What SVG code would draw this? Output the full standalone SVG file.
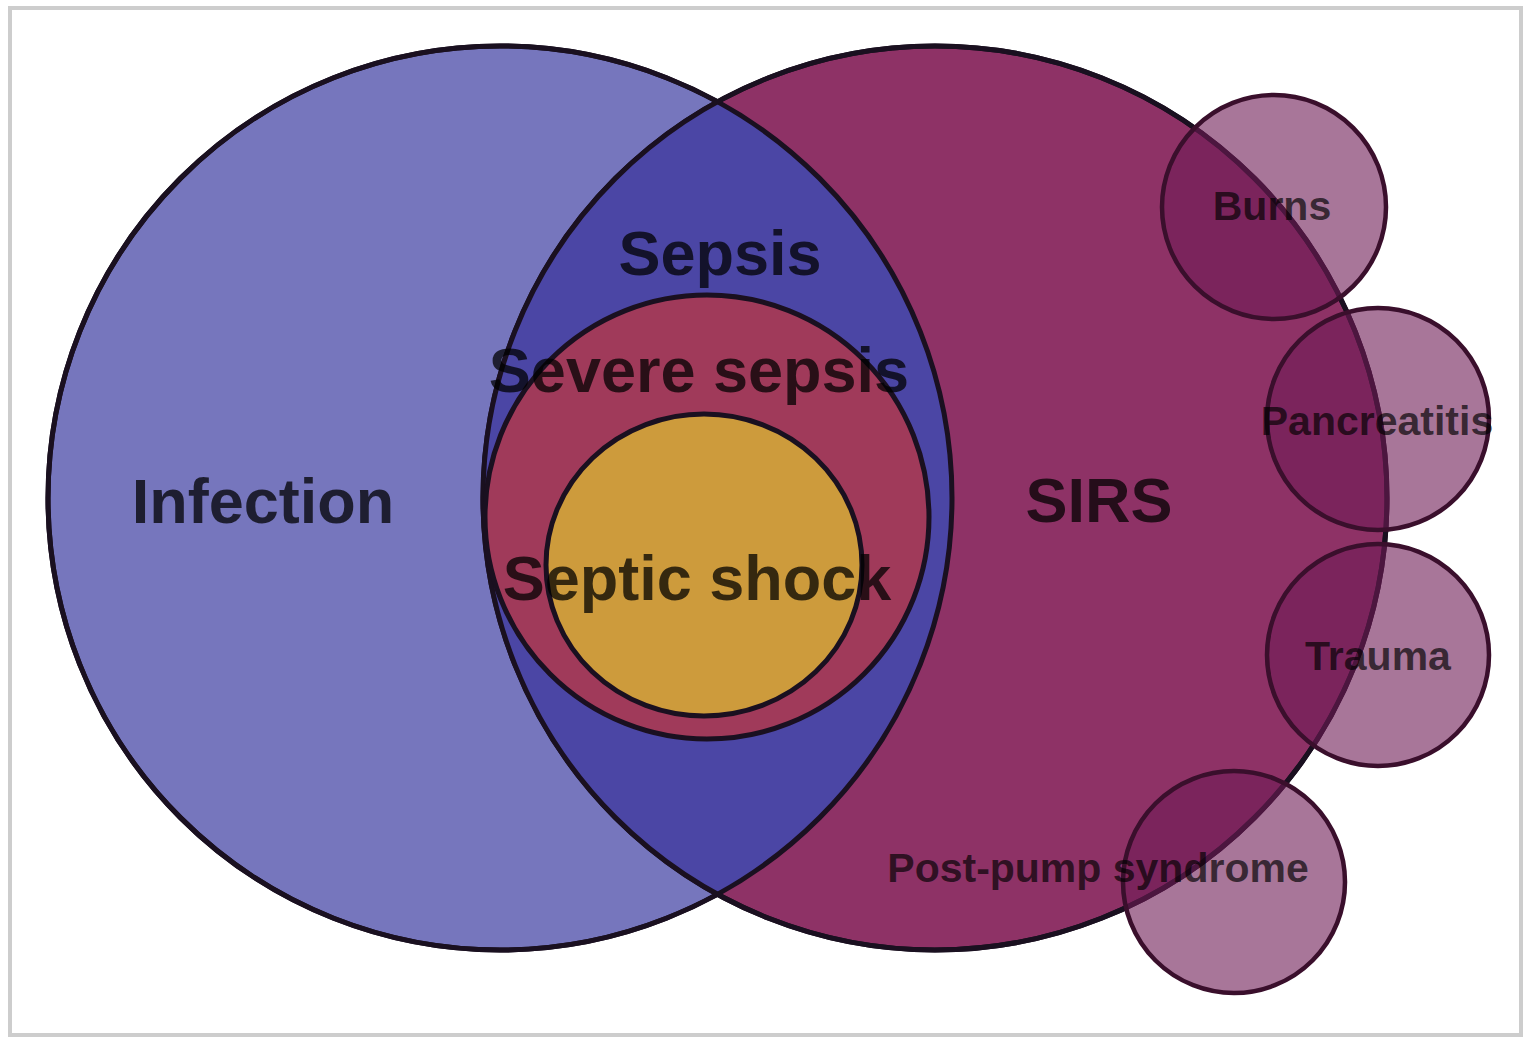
<svg xmlns="http://www.w3.org/2000/svg" width="1526" height="1039" viewBox="0 0 1526 1039">
<style>
.big{stroke:#1a1020;stroke-width:5}
.small{fill:#6e1a55;fill-opacity:0.6;stroke:#3a0f2c;stroke-width:4.5}
.lbl{font-family:"Liberation Sans",Arial,sans-serif;font-weight:bold;text-anchor:middle;fill:#000;fill-opacity:0.74}
.L{font-size:63px}
.S{font-size:41px;fill-opacity:0.68}
</style>
<defs>
<clipPath id="infClip"><circle cx="500" cy="498" r="452"/></clipPath>
</defs>
<rect x="10" y="8" width="1511" height="1027" fill="#fff" stroke="#cdcdcd" stroke-width="4"/>
<g id="infection">
<circle class="big" cx="500" cy="498" r="452" fill="#7676bd"/>
<text class="lbl L" x="263" y="523">Infection</text>
</g>
<g id="sirs">
<circle class="big" cx="935" cy="498" r="452" fill="#8e3266"/>
<text class="lbl L" x="1099" y="522">SIRS</text>
</g>
<g id="sepsis">
<circle cx="935" cy="498" r="452" fill="#4b46a5" clip-path="url(#infClip)"/>
<circle class="big" cx="500" cy="498" r="452" fill="none"/>
<circle class="big" cx="935" cy="498" r="452" fill="none"/>
<text class="lbl L" x="720" y="275">Sepsis</text>
</g>
<g id="severe-sepsis">
<circle class="big" cx="707" cy="517" r="222" fill="#a03a5a"/>
<text class="lbl L" x="699" y="392">Severe sepsis</text>
</g>
<g id="septic-shock">
<ellipse class="big" cx="704" cy="565" rx="158" ry="151" fill="#cd9b3c"/>
<text class="lbl L" x="697" y="600">Septic shock</text>
</g>
<g id="post-pump">
<circle class="small" cx="1234" cy="882" r="111"/>
<text class="lbl S" x="1098" y="882">Post-pump syndrome</text>
</g>
<g id="burns">
<circle class="small" cx="1274" cy="207" r="112"/>
<text class="lbl S" x="1272" y="220">Burns</text>
</g>
<g id="pancreatitis">
<circle class="small" cx="1378" cy="419" r="111"/>
<text class="lbl S" x="1377" y="435">Pancreatitis</text>
</g>
<g id="trauma">
<circle class="small" cx="1378" cy="655" r="111"/>
<text class="lbl S" x="1378" y="670">Trauma</text>
</g>
<g id="connectors"/>
</svg>
